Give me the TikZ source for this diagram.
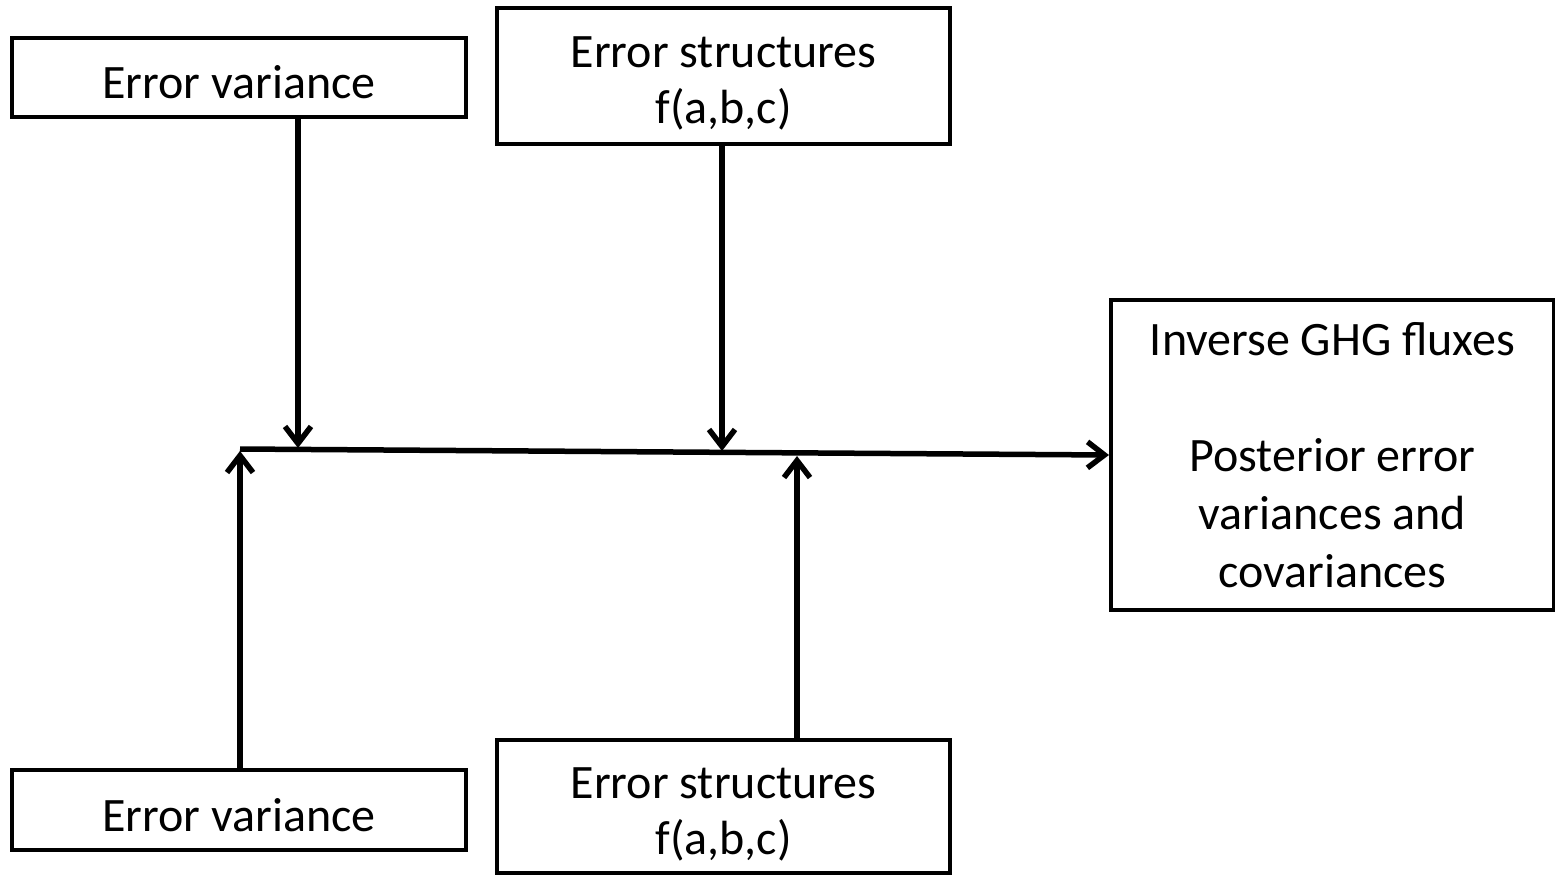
\documentclass[tikz,border=0pt]{standalone}
\usepackage{fontspec}
\setmainfont{Carlito}
\usetikzlibrary{arrows.meta,calc}
\begin{document}
\begin{tikzpicture}[x=1pt,y=-1pt,
  box/.style={draw=black,line width=4pt,inner sep=0pt,align=center,
    font=\fontsize{48}{56}\selectfont},
  onebox/.style={box,text height=42pt,text depth=0pt},
  twobox/.style={box,text height=95pt,text depth=0pt},
  conn/.style={line width=5.5pt,-{Straight Barb[length=17pt,width=26pt,line width=5.5pt]}}]
\useasboundingbox (0,0) rectangle (1555,876);
\node[onebox,minimum width=454pt,minimum height=79pt] (ev1) at (239,77.5) {Error variance};
\node[twobox,minimum width=453pt,minimum height=136pt] (es1) at (723.5,76) {Error structures\\f(a,b,c)};
\node[onebox,minimum width=454pt,minimum height=80pt] (ev2) at (239,810) {Error variance};
\node[twobox,minimum width=453pt,minimum height=133pt] (es2) at (723.5,806.5) {Error structures\\f(a,b,c)};
\node[box,minimum width=443pt,minimum height=310pt,font=\fontsize{48}{58}\selectfont] (out) at (1332.5,455)
  {Inverse GHG fluxes\\[58pt]Posterior error\\variances and\\covariances};
\coordinate (jL) at (240,449);
\coordinate (t1) at (298,448);
\coordinate (s1) at (298,117);
\coordinate (t2) at (722,451);
\coordinate (t3) at (240,451);
\coordinate (t4) at (797,456);
\coordinate (s4) at (797,740);
\draw[conn] (s1) -- (t1);
\draw[conn] (es1.south -| t2) -- (t2);
\draw[conn] (ev2.north -| t3) -- (t3);
\draw[conn] (s4) -- (t4);
\draw[conn] (jL) -- (out.west);
\end{tikzpicture}
\end{document}
